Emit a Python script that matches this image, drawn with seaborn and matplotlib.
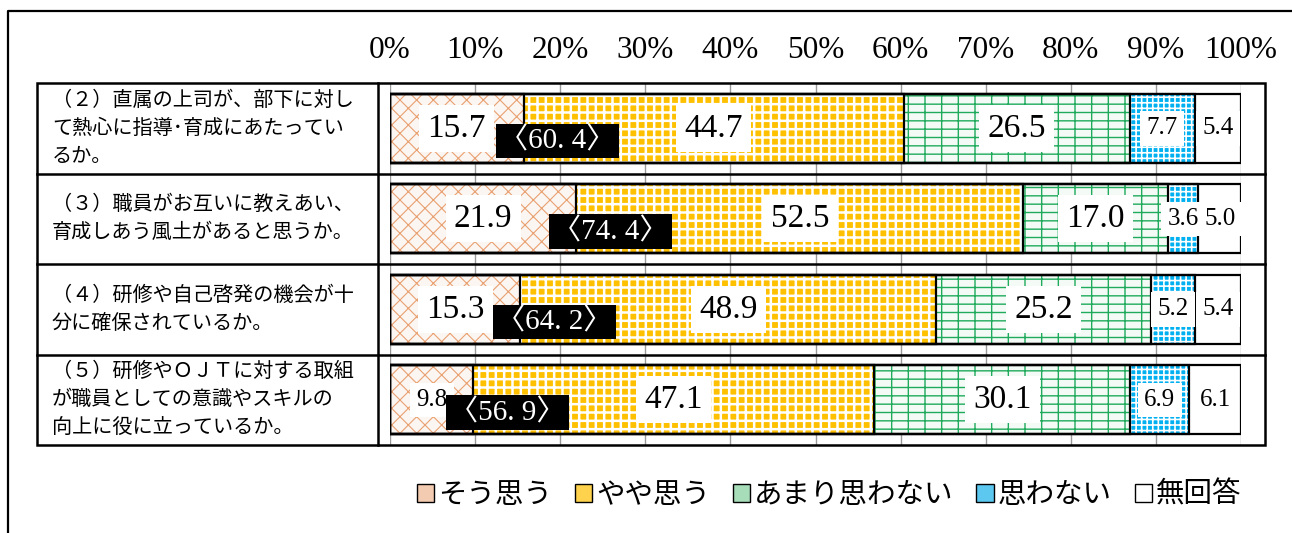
import matplotlib
matplotlib.use("Agg")
import matplotlib.pyplot as plt
from matplotlib.patches import Patch, Rectangle
import pandas as pd
import seaborn as sns

questions = [
    "（２）直属の上司が、部下に対し\nて熱心に指導･育成にあたってい\nるか。",
    "（３）職員がお互いに教えあい、\n育成しあう風土があると思うか。",
    "（４）研修や自己啓発の機会が十\n分に確保されているか。",
    "（５）研修やＯＪＴに対する取組\nが職員としての意識やスキルの\n向上に役に立っているか。",
]
keys = ["q2", "q3", "q4", "q5"]
categories = ["そう思う", "やや思う", "あまり思わない", "思わない", "無回答"]
sou_omou = [15.7, 21.9, 15.3, 9.8]
yaya_omou = [44.7, 52.5, 48.9, 47.1]
amari_omowanai = [26.5, 17.0, 25.2, 30.1]
omowanai = [7.7, 3.6, 5.2, 6.9]
mukaitou = [5.4, 5.0, 5.4, 6.1]
tick_values = [0, 10, 20, 30, 40, 50, 60, 70, 80, 90, 100]
tick_labels = ["0%", "10%", "20%", "30%", "40%", "50%", "60%", "70%", "80%", "90%", "100%"]

values = pd.DataFrame(
    {categories[0]: sou_omou, categories[1]: yaya_omou, categories[2]: amari_omowanai,
     categories[3]: omowanai, categories[4]: mukaitou},
    index=keys,
)
cums = values.cumsum(axis=1)

# face colour, hatch, hatch colour, hatch linewidth
styles = {
    "そう思う": ("#FBF6F2", "xx", "#E9A070", 0.8),
    "やや思う": ("#FFC000", "++", "white", 1.8),
    "あまり思わない": ("#F4FBF6", "--|", "#1FAA5C", 1.0),
    "思わない": ("#00B0F0", "+++", "white", 1.2),
    "無回答": ("white", "", "white", 1.0),
}
legend_colors = {
    "そう思う": "#F3CBB0",
    "やや思う": "#FFD24D",
    "あまり思わない": "#A8DDB9",
    "思わない": "#5CC8F0",
    "無回答": "white",
}

plt.rcParams["hatch.linewidth"] = 1.2
serif = ["Liberation Serif", "Noto Sans CJK JP"]
jp = ["Noto Sans CJK JP", "DejaVu Sans"]

W, H = 1292, 533
fig = plt.figure(figsize=(W / 100, H / 100), dpi=100)
top, bottom = 83, 445
ax = fig.add_axes([390 / W, 1 - bottom / H, 851 / W, (bottom - top) / H])
ax.set_facecolor("none")

for cat in reversed(categories):
    fc, hatch, hc, hlw = styles[cat]
    n_before = len(ax.patches)
    d = pd.DataFrame({"q": keys, "cum": cums[cat].values})
    sns.barplot(data=d, x="cum", y="q", order=keys, orient="y", color=fc,
                saturation=1, hatch=hatch, edgecolor=hc, linewidth=0,
                width=0.76, errorbar=None, ax=ax)
    for p in ax.patches[n_before:]:
        if hasattr(p, "set_hatch_linewidth"):
            p.set_hatch_linewidth(hlw)

for p in list(ax.patches):
    ax.add_patch(Rectangle(p.get_xy(), p.get_width(), p.get_height(),
                           fill=False, ec="black", lw=1.6, zorder=3))

# value labels
for i, k in enumerate(keys):
    left = 0
    for cat in categories:
        v = values.loc[k, cat]
        big = v >= 10
        ax.text(left + v / 2, i, f"{v:.1f}", ha="center", va="center",
                fontsize=24 if big else 18, family=serif, zorder=6,
                bbox=dict(boxstyle="square,pad=0.25", fc="white", ec="none"))
        left += v
    s1 = values.loc[k, categories[0]]
    tot = s1 + values.loc[k, categories[1]]
    a, b = f"{tot:.1f}".split(".")
    ax.text(s1 + 4, i + 0.14, f"〈{a}. {b}〉", ha="center", va="center",
            fontsize=21, family=serif, color="white", zorder=7,
            bbox=dict(boxstyle="square,pad=0.12", fc="black", ec="none"))

ax.set_xlim(0, 100)
ax.set_ylim(3.5, -0.5)
ax.set_xlabel("")
ax.set_ylabel("")
ax.set_xticks(tick_values)
ax.set_xticklabels(tick_labels, family=serif)
ax.xaxis.tick_top()
ax.tick_params(axis="x", length=0, pad=13, labelsize=22.5)
ax.tick_params(axis="y", left=False, labelleft=False)
ax.grid(axis="x", color="#999999", lw=1)
ax.grid(axis="y", visible=False)
ax.set_axisbelow(True)
for s in ax.spines.values():
    s.set_visible(False)

# table frame and outer frame
ov = fig.add_axes([0, 0, 1, 1], zorder=5)
ov.set_xlim(0, W)
ov.set_ylim(H, 0)
ov.axis("off")
ov.plot([8, 8, W], [H, 11, 11], color="black", lw=1.6)
ov.add_patch(Rectangle((37, top), 1265 - 37, bottom - top, fill=False, ec="black", lw=1.8))
row_h = (bottom - top) / len(keys)
for j in range(1, len(keys)):
    y = top + row_h * j
    ov.plot([37, 1265], [y, y], color="black", lw=1.8)
ov.plot([378, 378], [top, bottom], color="black", lw=1.8)
for j, q in enumerate(questions):
    ov.text(52, top + row_h * (j + 0.5), q, ha="left", va="center",
            fontsize=14.5, linespacing=1.45, family=jp)

handles = [Patch(facecolor=legend_colors[c], edgecolor="black", lw=1) for c in categories]
fig.legend(handles, categories, loc="center", bbox_to_anchor=(829 / W, 1 - 495 / H),
           ncol=5, frameon=False, prop={"family": jp, "size": 20.5},
           handlelength=0.6, handleheight=0.6, handletextpad=0.15, columnspacing=0.8)

fig.savefig("out.png", dpi=100)
